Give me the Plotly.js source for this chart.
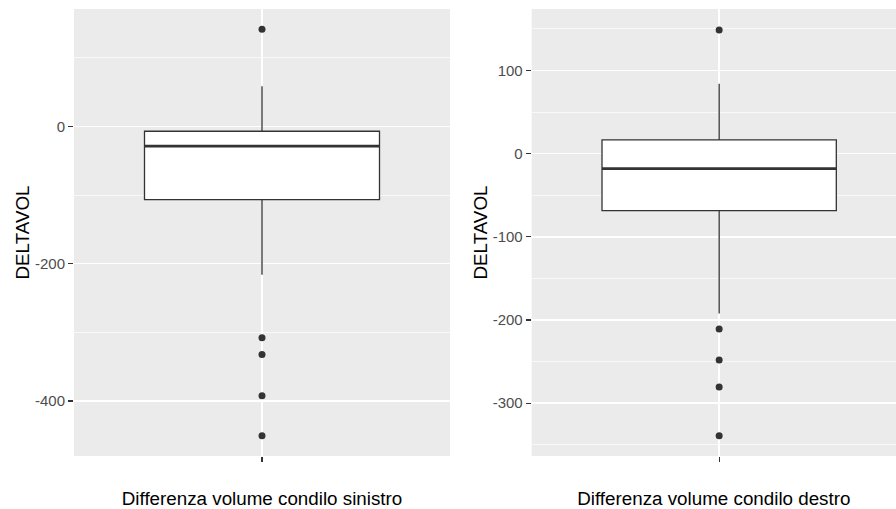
<!DOCTYPE html>
<html>
<head>
<meta charset="utf-8">
<script src="https://cdn.plot.ly/plotly-3.0.1.min.js"></script>
<style>html,body{margin:0;padding:0;background:#fff;}#chart{width:896px;height:509px;}</style>
</head>
<body>
<div id="chart"></div>
<script>
// Left panel: Differenza volume condilo sinistro
const leftLabel = "Differenza volume condilo sinistro";
const leftQ1 = -106.6, leftMedian = -28.7, leftQ3 = -6.9;
const leftLowerFence = -216, leftUpperFence = 58.8;
const leftOutliers = [141.6, -308, -332.4, -392.3, -450.7];
const leftTickVals = [-400, -200, 0];
const leftTickText = ["-400", "-200", "0"];

// Right panel: Differenza volume condilo destro
const rightLabel = "Differenza volume condilo destro";
const rightQ1 = -68.5, rightMedian = -17.9, rightQ3 = 16.6;
const rightLowerFence = -192, rightUpperFence = 84;
const rightOutliers = [148.6, -210.8, -248.1, -280.6, -339.2];
const rightTickVals = [-300, -200, -100, 0, 100];
const rightTickText = ["-300", "-200", "-100", "0", "100"];

const yTitle = "DELTAVOL";

const POS = 1, BW = 0.75;
const dark = "#333333";

function boxTraces(xa, ya, q1, med, q3, lo, hi, outl) {
  return [
    {type: "box", xaxis: xa, yaxis: ya, x: [POS], q1: [q1], median: [med], q3: [q3],
     lowerfence: [lo], upperfence: [hi], width: BW, boxpoints: false,
     fillcolor: "#ffffff", line: {color: dark, width: 1.3}, whiskerwidth: 0,
     hoverinfo: "skip", showlegend: false},
    {type: "scatter", mode: "lines", xaxis: xa, yaxis: ya,
     x: [POS - BW / 2, POS + BW / 2], y: [med, med],
     line: {color: dark, width: 2.8}, hoverinfo: "skip", showlegend: false},
    {type: "scatter", mode: "markers", xaxis: xa, yaxis: ya,
     x: outl.map(() => POS), y: outl,
     marker: {color: dark, size: 7}, hoverinfo: "skip", showlegend: false}
  ];
}

const data = [].concat(
  boxTraces("x", "y", leftQ1, leftMedian, leftQ3, leftLowerFence, leftUpperFence, leftOutliers),
  boxTraces("x2", "y2", rightQ1, rightMedian, rightQ3, rightLowerFence, rightUpperFence, rightOutliers)
);

const W = 896, H = 509;
const tickFont = {family: "Liberation Sans, Arial, sans-serif", size: 15, color: "#4D4D4D"};
const titleFont = {family: "Liberation Sans, Arial, sans-serif", size: 18.8, color: "#000000"};

function xAxis(domain, range, label, anchor) {
  return {domain: domain, range: range, anchor: anchor, tickvals: [POS], ticktext: [" "],
    showgrid: true, gridcolor: "#ffffff", gridwidth: 1.4, zeroline: false, showline: false,
    ticks: "outside", ticklen: 5, tickwidth: 1.2, tickcolor: dark, tickfont: tickFont,
    title: {text: label, font: titleFont, standoff: 12}, fixedrange: true};
}
function yAxis(range, tv, tt, minorDtick, anchor) {
  return {range: range, tickmode: "array", tickvals: tv, ticktext: tt, anchor: anchor,
    showgrid: true, gridcolor: "#ffffff", gridwidth: 1.4, zeroline: false, showline: false,
    minor: {dtick: minorDtick, tick0: 0, showgrid: true, gridcolor: "#ffffff", gridwidth: 0.7, ticks: ""},
    ticks: "outside", ticklen: 5, tickwidth: 1.2, tickcolor: dark, tickfont: tickFont,
    title: {text: yTitle, font: titleFont, standoff: 0}, fixedrange: true};
}

const layout = {
  width: W, height: H,
  margin: {l: 0, r: 0, t: 9, b: 53},
  paper_bgcolor: "#ffffff", plot_bgcolor: "#EBEBEB",
  showlegend: false,
  xaxis: xAxis([74 / W, 450 / W], [0.4, 1.6], leftLabel, "y"),
  yaxis: yAxis([-480.3, 171.3], leftTickVals, leftTickText, 100, "x"),
  xaxis2: xAxis([531.7 / W, 1], [0.4, 1.566], rightLabel, "y2"),
  yaxis2: yAxis([-363.5, 174], rightTickVals, rightTickText, 50, "x2")
};

Plotly.newPlot("chart", data, layout, {staticPlot: true, displayModeBar: false});
</script>
</body>
</html>
